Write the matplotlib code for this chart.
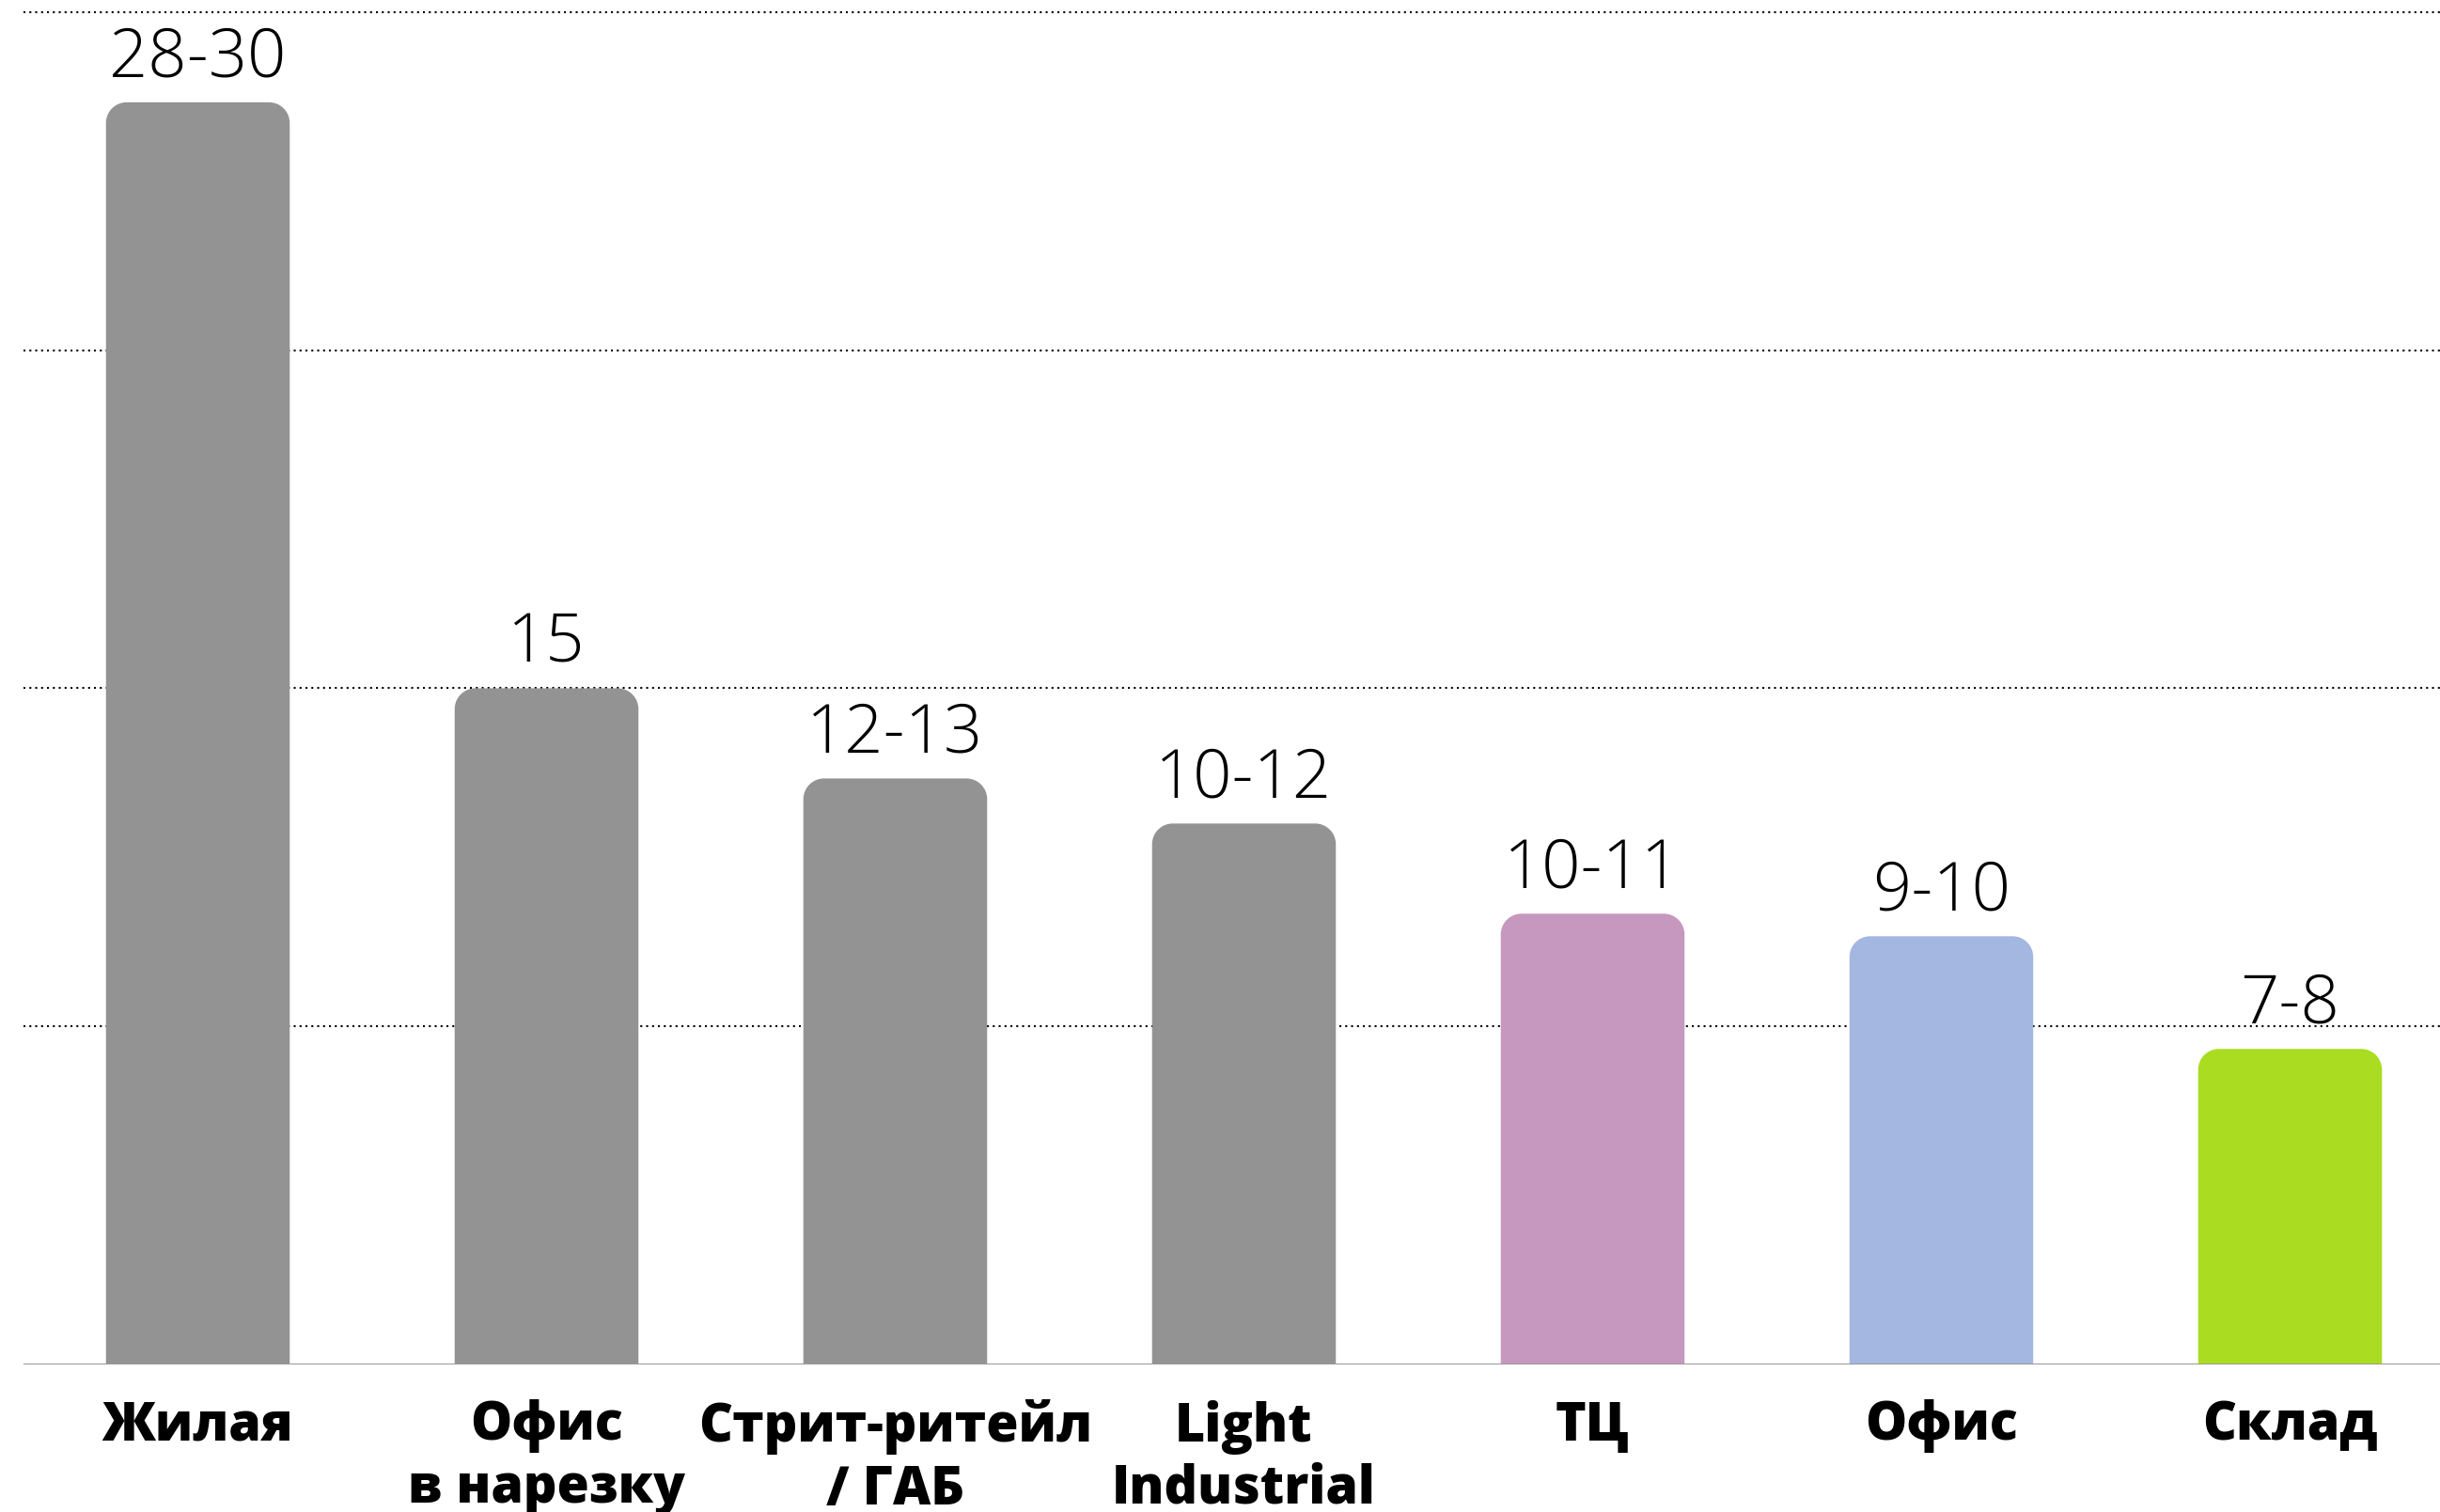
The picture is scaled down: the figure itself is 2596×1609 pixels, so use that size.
import numpy as np
import matplotlib.pyplot as plt
from matplotlib.path import Path
from matplotlib.patches import PathPatch

plt.rcParams['font.family'] = ['Open Sans', 'DejaVu Sans']

# Data
categories = ['Жилая', 'Офис\nв нарезку', 'Стрит-ритейл\n/ ГАБ', 'Light\nIndustrial',
              'ТЦ', 'Офис', 'Склад']
values = [28, 15, 13, 12, 10, 9.5, 7]
value_labels = ['28-30', '15', '12-13', '10-12', '10-11', '9-10', '7-8']
colors = ['#939393', '#939393', '#939393', '#939393', '#C798BF', '#A4B7E1', '#AADC22']
grid_levels = [7.5, 15, 22.5, 30]

W, H, DPI = 2596, 1609, 100
fig = plt.figure(figsize=(W / DPI, H / DPI), dpi=DPI)

# axes placement in pixels (baseline at y=1452, left edge at x=25)
base_y = 1452
px_per_unit = 47.97
ymax = 30.2
ax_h = ymax * px_per_unit
ax = fig.add_axes([25 / W, (H - base_y) / H, (W - 25) / W, ax_h / H])
ax.set_xlim(-0.5, 6.43)
ax.set_ylim(0, ymax)
ax.axis('off')

# dotted gridlines
for g in grid_levels:
    ax.axhline(g, color='black', lw=1.5, linestyle=(0, (1, 2)), zorder=1)

# baseline
ax.axhline(0, color='#999999', lw=2.2, zorder=3)


def rounded_bar(ax, xc, h, w, color, r_px=22):
    # radius in data units for x and y separately
    p0 = ax.transData.transform((0, 0))
    p1 = ax.transData.transform((1, 1))
    rx = r_px / (p1[0] - p0[0])
    ry = r_px / (p1[1] - p0[1])
    x0, x1 = xc - w / 2, xc + w / 2
    k = 0.5523
    verts = [(x0, 0), (x0, h - ry),
             (x0, h - ry + k * ry), (x0 + rx - k * rx, h), (x0 + rx, h),
             (x1 - rx, h),
             (x1 - rx + k * rx, h), (x1, h - ry + k * ry), (x1, h - ry),
             (x1, 0), (x0, 0)]
    codes = [Path.MOVETO, Path.LINETO,
             Path.CURVE4, Path.CURVE4, Path.CURVE4,
             Path.LINETO,
             Path.CURVE4, Path.CURVE4, Path.CURVE4,
             Path.LINETO, Path.CLOSEPOLY]
    ax.add_patch(PathPatch(Path(verts, codes), facecolor=color, edgecolor='none', zorder=2))


x = np.arange(len(categories))
for xi, v, c, lab, cat in zip(x, values, colors, value_labels, categories):
    rounded_bar(ax, xi, v, 0.527, c)
    ax.annotate(lab, (xi, v), xytext=(0, 20), textcoords='offset points',
                ha='center', va='baseline', fontsize=52, fontweight='light', color='black')
    ax.annotate(cat, (xi, 0), xytext=(0, -27),
                textcoords='offset points', ha='center', va='top', fontsize=40,
                fontweight='heavy', color='black', linespacing=1.22,
                annotation_clip=False)

fig.savefig('out.png', dpi=DPI)
